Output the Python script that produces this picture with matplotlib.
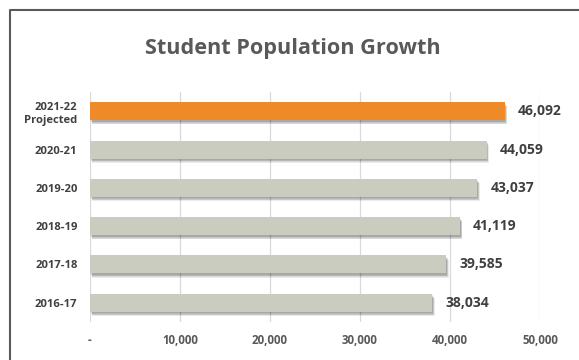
import numpy as np
import matplotlib.pyplot as plt
import matplotlib.transforms as mtransforms
from matplotlib.lines import Line2D

plt.rcParams['font.family'] = ['Open Sans', 'DejaVu Sans']

years = ["2016-17", "2017-18", "2018-19", "2019-20", "2020-21", "2021-22\nProjected"]
students = [38034, 39585, 41119, 43037, 44059, 46092]
bar_colors = ["#CBCCC0"] * 5 + ["#EE8A28"]
xticks = [0, 10000, 20000, 30000, 40000, 50000]
xtick_labels = ["-", "10,000", "20,000", "30,000", "40,000", "50,000"]

fig = plt.figure(figsize=(5.79, 3.6), dpi=100)
ax = fig.add_axes([0.1554, 0.1056, 0.7772, 0.6388])

y = np.arange(len(years))
h = 0.47

# soft drop shadow under each bar
for i in range(5):
    dx, dy = (0.5 + i * 0.3) / 72, (-1.0 - i * 0.5) / 72
    off = mtransforms.ScaledTranslation(dx, dy, fig.dpi_scale_trans)
    ax.barh(y, students, height=h, color="#000000", alpha=0.08,
            transform=ax.transData + off, zorder=2)

ax.barh(y, students, height=h, color=bar_colors, zorder=3)

for yi, v in zip(y, students):
    ax.annotate(f"{v:,}", (v, yi), xytext=(9.5, 0), textcoords="offset points",
                va="center", ha="left", fontsize=10, fontweight="bold",
                color="#404040")

ax.set_xlim(0, 50000)
ax.set_ylim(-0.5, 5.5)
ax.set_xticks(xticks)
ax.set_xticklabels(xtick_labels, fontsize=8.3, fontweight="bold", color="#595959")
ax.set_yticks(y)
ax.set_yticklabels(years, fontsize=8.1, fontweight="bold", color="#404040",
                   linespacing=1.35)
ax.tick_params(axis="both", length=0)
ax.tick_params(axis="x", pad=9)
ax.tick_params(axis="y", pad=9)
ax.grid(axis="x", color="#D9D9D9", linewidth=0.9, zorder=0)
for s in ax.spines.values():
    s.set_visible(False)

fig.text(0.506, 0.866, "Student Population Growth", ha="center", va="center",
         fontsize=15.6, fontweight="bold", color="#595959")

# chart frame (left and top edges)
fig.add_artist(Line2D([10 / 579, 10 / 579, 1.0], [0.0, 1 - 9.5 / 360, 1 - 9.5 / 360],
                      transform=fig.transFigure, color="#595959", linewidth=1.5))

fig.savefig("out.png", dpi=100)
